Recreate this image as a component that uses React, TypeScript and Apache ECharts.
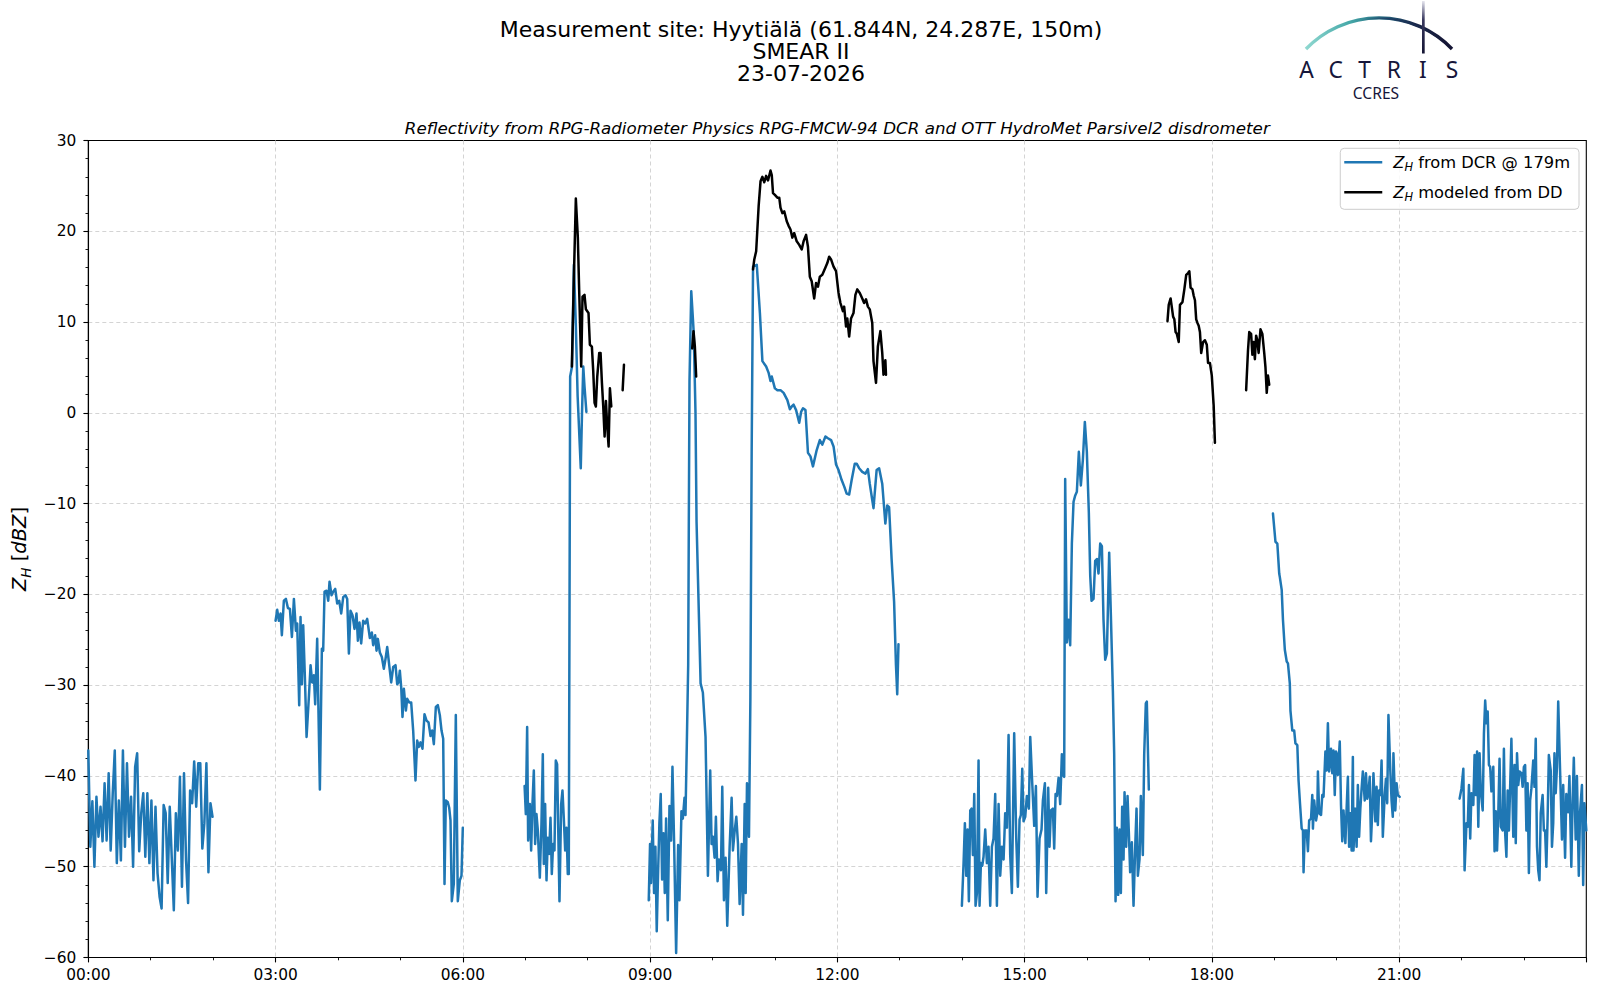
import React, { useEffect, useRef } from 'react';
import * as echarts from 'echarts';

const FONT = '"DejaVu Sans", "Noto Sans", sans-serif';
const BLUE = '#1f77b4';
const BLACK = '#000000';
const NAVY = '#16163a';

const TITLE_LINES = ['Measurement site: Hyytiälä (61.844N, 24.287E, 150m)', 'SMEAR II', '23-07-2026'];
const SUBTITLE = 'Reflectivity from RPG-Radiometer Physics RPG-FMCW-94 DCR and OTT HydroMet Parsivel2 disdrometer';
const NAME_DCR = 'ZH from DCR @ 179m';
const NAME_DD = 'ZH modeled from DD';
const LOGO_LETTERS = ['A', 'C', 'T', 'R', 'I', 'S'];

const X_MIN = 0, X_MAX = 24, X_STEP = 3;
const Y_MIN = -60, Y_MAX = 30, Y_STEP = 10;

// DCR reflectivity, 00:00 - 01:59 (evenly spaced samples)
const dcrSeg1Start = 0.0;
const dcrSeg1End = 1.99;
const dcrSeg1Values = [-37.2,-47.8,-42.8,-50,-42.3,-46.7,-43.4,-47.2,-40.8,-47.1,-39.7,-48.2,-41.9,-37.2,-49.6,-42.7,-49.3,-37.2,-47.8,-38.6,-46.7,-42.3,-50,-39,-37.5,-48.3,-44.1,-41.9,-48.9,-41.9,-49.6,-42.7,-51.5,-43.4,-50.7,-53.3,-54.6,-43.2,-44.1,-51.8,-43.4,-49.1,-54.8,-44.1,-48.2,-40.1,-52.2,-39.7,-49.3,-54,-41.6,-43,-38.4,-43.4,-38.6,-38.6,-48,-45.2,-38.6,-50.6,-43,-44.5];

// DCR reflectivity [hour, dBZ]
const dcrSeg2 = [[3.0,-22.9],[3.027,-21.7],[3.053,-22.9],[3.08,-22.1],[3.101,-24.5],[3.133,-20.7],[3.166,-20.5],[3.198,-21.5],[3.23,-21.6],[3.262,-24.7],[3.294,-20.5],[3.326,-24],[3.347,-23.2],[3.379,-32.2],[3.4,-22.5],[3.422,-29.9],[3.443,-23.4],[3.47,-29.1],[3.497,-35.7],[3.534,-31.3],[3.561,-27.8],[3.587,-29.7],[3.614,-28.9],[3.635,-32.1],[3.667,-24.9],[3.71,-41.5],[3.742,-26],[3.763,-26.2],[3.785,-19.7],[3.817,-19.6],[3.844,-20.7],[3.865,-18.6],[3.897,-20.1],[3.924,-19.7],[3.956,-19.4],[3.988,-21],[4.02,-20.7],[4.052,-22.1],[4.084,-20.3],[4.121,-20.1],[4.148,-20.5],[4.175,-26.5],[4.201,-21.8],[4.233,-22.3],[4.265,-23.8],[4.297,-22.1],[4.319,-25.1],[4.345,-23.1],[4.372,-25.4],[4.404,-22.9],[4.436,-23.2],[4.468,-22.7],[4.511,-24.8],[4.543,-24.2],[4.564,-25.6],[4.596,-24.5],[4.618,-26.2],[4.639,-24.9],[4.671,-26.4],[4.703,-26.9],[4.735,-28.2],[4.762,-27.1],[4.789,-25.8],[4.821,-27.8],[4.853,-29.7],[4.885,-28],[4.922,-27.8],[4.949,-29.9],[4.97,-29.7],[4.991,-28.4],[5.013,-30.2],[5.034,-33.5],[5.056,-30.4],[5.088,-32.8],[5.109,-31.5],[5.141,-31.9],[5.173,-31.9],[5.205,-35],[5.226,-38.1],[5.242,-40.5],[5.269,-36.1],[5.296,-36.8],[5.322,-36.3],[5.354,-37],[5.386,-33.2],[5.419,-33.9],[5.451,-34.1],[5.483,-35.6],[5.509,-35],[5.536,-36.5],[5.568,-32.4],[5.6,-32.2],[5.632,-33.3],[5.659,-35],[5.686,-35.9],[5.707,-51.9],[5.728,-42.7],[5.76,-42.9],[5.782,-43.5],[5.803,-44.9],[5.824,-53.8],[5.856,-51.9],[5.888,-33.3],[5.92,-53.8],[5.952,-51.5],[5.979,-51],[6.0,-45.7]];

const dcrSeg3 = [[6.99,-41.1],[7.01,-44.2],[7.031,-34.6],[7.047,-47.1],[7.074,-43.1],[7.095,-48.2],[7.116,-43.1],[7.138,-39.4],[7.159,-47.5],[7.18,-44.2],[7.202,-46],[7.234,-51.2],[7.26,-45.3],[7.282,-37.6],[7.298,-49.7],[7.319,-43.1],[7.341,-51.5],[7.362,-46.8],[7.383,-48.6],[7.405,-44.6],[7.426,-50.8],[7.447,-47.5],[7.469,-48.2],[7.49,-38.3],[7.511,-38.7],[7.533,-47.5],[7.549,-53.8],[7.576,-43.1],[7.597,-41.6],[7.618,-44.6],[7.64,-48.2],[7.661,-45.7],[7.682,-50.8],[7.698,-50.8],[7.72,4.0],[7.75,5.1],[7.78,16.3],[7.81,9.9],[7.84,1.8],[7.89,-6.1],[7.91,0],[7.93,5.1],[7.95,2.9],[7.98,0.1]];

const dcrSeg4 = [[8.979,-53.7],[9.0,-47.5],[9.016,-51.8],[9.043,-44.9],[9.064,-52.9],[9.086,-47.8],[9.107,-57.1],[9.129,-50.6],[9.15,-45.1],[9.171,-42],[9.193,-51.4],[9.214,-46.3],[9.236,-52.9],[9.257,-44.7],[9.284,-55.9],[9.311,-43.3],[9.337,-47.1],[9.359,-39],[9.386,-47.5],[9.418,-59.5],[9.45,-47.6],[9.471,-53.7],[9.503,-43.9],[9.525,-44.7],[9.552,-42.4],[9.568,-44.3],[9.589,-36.5],[9.611,-27.8],[9.621,-12.2],[9.632,3.5],[9.66,13.4],[9.70,8.8],[9.728,0],[9.745,-12],[9.81,-29.8],[9.846,-30.8],[9.889,-35.7],[9.927,-51],[9.964,-39.4],[9.986,-47.5],[10.007,-46.7],[10.034,-49],[10.055,-44.5],[10.082,-51.6],[10.103,-49.2],[10.136,-50.4],[10.157,-41.2],[10.184,-53.7],[10.21,-49],[10.237,-56.5],[10.275,-47.8],[10.307,-42.4],[10.328,-48.2],[10.355,-46.1],[10.382,-44.5],[10.409,-47.5],[10.435,-54.1],[10.468,-47.5],[10.489,-55.3],[10.516,-43.1],[10.532,-52.9],[10.553,-40.8],[10.585,-46.7],[10.607,-31.8],[10.628,-4.3],[10.65,16.1],[10.71,16.3],[10.76,11],[10.8,5.7],[10.86,5.1],[10.9,4.4],[10.93,3.5],[10.95,4],[11.0,2.7],[11.04,2.5],[11.09,2.5],[11.14,2.2],[11.2,1.4],[11.24,0.4],[11.27,0.7],[11.3,0.9],[11.34,0.3],[11.39,-1.1],[11.42,0.1],[11.45,0.5],[11.49,0.3],[11.53,-4.4],[11.57,-4.8],[11.61,-5.9],[11.67,-4.1],[11.72,-3],[11.76,-3.5],[11.81,-2.6],[11.85,-2.8],[11.9,-3],[11.94,-3.7],[11.98,-5.7],[12.02,-6.3],[12.07,-7.4],[12.11,-8.1],[12.15,-8.9],[12.19,-9],[12.23,-7.4],[12.28,-5.6],[12.31,-5.6],[12.35,-6.1],[12.4,-6.5],[12.45,-6.7],[12.49,-6.2],[12.52,-7.8],[12.56,-9.6],[12.58,-10.5],[12.63,-6.3],[12.67,-6.1],[12.72,-7.8],[12.77,-12.2],[12.8,-10.2],[12.83,-10.4],[12.87,-16.1],[12.91,-20.8],[12.94,-27.8],[12.96,-31],[12.98,-25.5]];

const dcrSeg5 = [[13.996,-54.3],[14.023,-49.6],[14.044,-45.2],[14.066,-51],[14.087,-45.9],[14.108,-53.8],[14.13,-43.8],[14.151,-43.6],[14.172,-48.7],[14.194,-42],[14.215,-54.3],[14.237,-52.9],[14.263,-38.3],[14.279,-54.3],[14.301,-49.6],[14.322,-49.9],[14.343,-48.9],[14.37,-45.9],[14.397,-49.6],[14.423,-47.8],[14.45,-54.3],[14.477,-47.8],[14.503,-46.9],[14.53,-42],[14.557,-54.3],[14.584,-43.1],[14.61,-51],[14.637,-47.8],[14.664,-49.2],[14.69,-44.1],[14.717,-45.7],[14.744,-35.5],[14.77,-48.7],[14.797,-52.9],[14.834,-35.3],[14.867,-46.9],[14.893,-52.2],[14.92,-44.8],[14.941,-44.3],[14.963,-39.2],[14.984,-45],[15.011,-44.5],[15.037,-42.2],[15.069,-43.6],[15.091,-35.7],[15.123,-40.8],[15.155,-45.5],[15.182,-41.1],[15.208,-53.3],[15.24,-46.9],[15.272,-45.9],[15.294,-42.7],[15.326,-40.8],[15.347,-52.9],[15.379,-41.3],[15.4,-47.8],[15.422,-43.8],[15.454,-43.6],[15.475,-48],[15.497,-42],[15.518,-42.2],[15.545,-40.2],[15.571,-43.1],[15.598,-37.6],[15.614,-39.9],[15.635,-40.1],[15.651,-7.3],[15.678,-25.3],[15.705,-22.8],[15.731,-25.6],[15.758,-14.4],[15.785,-9.8],[15.812,-9.1],[15.838,-8.7],[15.87,-4.3],[15.902,-8],[15.934,-5.2],[15.966,-1],[15.998,-4.3],[16.03,-11],[16.052,-17.9],[16.073,-20.7],[16.105,-20.5],[16.132,-16.3],[16.159,-16.1],[16.185,-17.7],[16.212,-14.4],[16.239,-14.7],[16.265,-22.8],[16.292,-27.2],[16.319,-26.5],[16.356,-15.4],[16.383,-22.3],[16.415,-30.6],[16.436,-37.6],[16.458,-53.8],[16.479,-45.7],[16.5,-53.1],[16.522,-45.9],[16.543,-52.9],[16.564,-43.4],[16.586,-49.2],[16.602,-41.8],[16.628,-47.8],[16.65,-42.2],[16.671,-46.2],[16.692,-50.6],[16.719,-47.3],[16.746,-54.3],[16.773,-47.8],[16.794,-43.6],[16.815,-51],[16.842,-49.2],[16.863,-42.2],[16.895,-48.7],[16.917,-37.6],[16.943,-32],[16.959,-31.8],[16.991,-41.5]];

const dcrSeg6 = [[18.98,-11.1],[19.02,-14.2],[19.05,-14.4],[19.08,-17.7],[19.09,-18.1],[19.12,-19.5],[19.14,-22.8],[19.17,-26.1],[19.2,-27.4],[19.22,-27.6],[19.25,-29.8],[19.26,-32.8],[19.29,-35],[19.32,-35],[19.34,-36.4],[19.37,-36.6],[19.39,-40.5],[19.41,-42.7],[19.44,-45.8],[19.46,-46],[19.47,-50.6],[19.49,-46],[19.52,-46],[19.54,-48.3],[19.56,-44.9],[19.59,-44.7],[19.61,-42.1],[19.62,-45.8],[19.64,-42.7],[19.67,-44.9],[19.69,-44.1],[19.7,-39.5],[19.72,-44.1],[19.75,-44.3],[19.77,-42.1],[19.79,-42.3],[19.82,-37.3],[19.84,-39.4],[19.86,-34.2],[19.88,-39.5],[19.91,-37],[19.93,-39.7],[19.95,-37.2],[19.97,-42.1],[19.99,-37.3],[20.01,-37.7],[20.02,-39.9],[20.05,-36.2],[20.07,-43.2],[20.09,-47.2],[20.11,-43.8],[20.14,-47.4],[20.16,-43.6],[20.18,-40.1],[20.2,-47.8],[20.22,-44.1],[20.24,-48.2],[20.26,-37.9],[20.27,-48.2],[20.3,-43.6],[20.32,-47.8],[20.34,-41],[20.36,-46.7],[20.38,-43.6],[20.4,-41.4],[20.42,-39.5],[20.45,-42.7],[20.47,-39.7],[20.49,-42.5],[20.51,-41.9],[20.53,-40.1],[20.55,-47.2],[20.57,-44.1],[20.59,-39.7],[20.62,-45],[20.64,-41.2],[20.66,-45.4],[20.68,-41.6],[20.7,-42.1],[20.72,-38.3],[20.74,-46.7],[20.77,-42.1],[20.79,-40.3],[20.81,-43],[20.83,-33.3],[20.86,-39.4],[20.88,-42.7],[20.9,-44.5],[20.91,-37.5],[20.94,-43.8],[20.96,-40.8],[20.98,-42.1],[21.01,-42.3]];

const dcrSeg7 = [[21.97,-42.5],[22.0,-41.4],[22.03,-39.2],[22.05,-50.4],[22.08,-45.2],[22.1,-45.6],[22.12,-41],[22.14,-46.9],[22.16,-41.9],[22.19,-43.2],[22.21,-37.7],[22.23,-42.1],[22.25,-37.3],[22.27,-45.6],[22.29,-37.5],[22.31,-41.7],[22.34,-43.8],[22.36,-35.3],[22.38,-31.7],[22.4,-34.2],[22.42,-32.9],[22.44,-38.8],[22.46,-39],[22.48,-41.7],[22.51,-39],[22.53,-48.3],[22.55,-43.9],[22.57,-48.2],[22.59,-44.1],[22.61,-38.1],[22.63,-45.6],[22.66,-46],[22.68,-37],[22.7,-46.3],[22.72,-48.9],[22.74,-41.6],[22.76,-46],[22.78,-41.2],[22.8,-35.9],[22.83,-46.7],[22.85,-38.8],[22.87,-47.4],[22.89,-37.5],[22.91,-41],[22.93,-39.5],[22.96,-39.7],[22.98,-41.2],[23.0,-39],[23.02,-38.8],[23.04,-46],[23.06,-40.8],[23.08,-50.7],[23.1,-42.7],[23.12,-41.4],[23.15,-38.3],[23.17,-41.2],[23.19,-35.9],[23.21,-47.8],[23.23,-50.4],[23.25,-51.5],[23.27,-44.1],[23.3,-42.1],[23.32,-46],[23.34,-46],[23.36,-50],[23.38,-44.7],[23.4,-37.7],[23.43,-39.4],[23.45,-47.8],[23.47,-45.2],[23.49,-37.5],[23.51,-41.9],[23.53,-39],[23.55,-31.8],[23.58,-39.4],[23.61,-47],[23.63,-41],[23.66,-49],[23.68,-42],[23.71,-44],[23.73,-40],[23.76,-50],[23.78,-43],[23.8,-38],[23.83,-47],[23.85,-40],[23.88,-51],[23.9,-44],[23.93,-41],[23.95,-52],[23.97,-43],[24.0,-46]];

// Reflectivity modeled from disdrometer [hour, dBZ]
const ddSeg1 = [[7.747,5.1],[7.779,14.7],[7.811,23.6],[7.843,19.3],[7.864,13.6],[7.897,5.1],[7.918,12.8],[7.95,13],[7.972,11.4],[8.014,11],[8.036,7.5],[8.068,7.3],[8.089,4.7],[8.111,1.1],[8.132,0.7],[8.154,4],[8.186,6.6],[8.207,6.6],[8.229,3.3],[8.25,0.7],[8.272,-2.6],[8.293,1.3],[8.314,-1.5],[8.336,-3.7],[8.357,2.7],[8.379,0.7]];
const ddSeg2 = [[8.561,2.5],[8.582,5.3]];
const ddSeg3 = [[9.675,7.1],[9.696,9],[9.718,7.3],[9.739,4]];
const ddSeg4 = [[10.65,15.8],[10.67,16.9],[10.7,17.8],[10.74,22.8],[10.77,25.5],[10.8,26],[10.83,25.4],[10.86,26.1],[10.89,25.6],[10.93,26.7],[10.95,26.2],[10.97,24.2],[11.0,24],[11.04,23.7],[11.07,23.7],[11.09,22.6],[11.12,22],[11.15,22.2],[11.19,21.1],[11.22,20.6],[11.25,20.2],[11.28,19.3],[11.31,19.8],[11.35,18.9],[11.39,18.5],[11.43,18],[11.46,18.9],[11.5,19.6],[11.53,18.3],[11.56,15],[11.59,14.5],[11.63,12.6],[11.66,14.3],[11.69,13.9],[11.72,15],[11.76,15.2],[11.81,16],[11.84,16.5],[11.87,17.2],[11.9,16.9],[11.94,16.1],[11.98,15.6],[12.02,13.2],[12.05,12.1],[12.09,11.2],[12.11,11.7],[12.14,9.5],[12.16,10.4],[12.19,8.4],[12.22,10.4],[12.26,11],[12.29,13],[12.32,13.6],[12.36,13.2],[12.4,12.6],[12.43,12.1],[12.46,12.5],[12.49,11.7],[12.52,11.4],[12.56,9.9],[12.58,5.7],[12.62,3.3],[12.65,7.3],[12.69,9],[12.72,6.6],[12.74,4.2],[12.77,5.8],[12.78,4.2]];
const ddSeg5 = [[17.29,10.1],[17.31,11.9],[17.34,12.6],[17.38,10.6],[17.4,10.3],[17.42,8.9],[17.44,8.7],[17.47,7.8],[17.49,11.9],[17.53,12.2],[17.56,13.6],[17.59,15.2],[17.62,15.4],[17.64,15.6],[17.66,13.8],[17.69,13.6],[17.71,12.9],[17.73,12.4],[17.75,10.3],[17.77,9.9],[17.79,9.6],[17.81,8.9],[17.83,6.6],[17.86,7.8],[17.89,8],[17.92,7.5],[17.94,5.5],[17.97,5.5],[18.0,4.1],[18.03,0.8],[18.05,-3.3]];
const ddSeg6 = [[18.55,2.5],[18.58,6.9],[18.6,8.9],[18.63,8.7],[18.65,6.4],[18.67,7.8],[18.69,5.9],[18.71,8.5],[18.73,8],[18.75,6.6],[18.78,9.2],[18.81,8.7],[18.84,6.6],[18.86,5],[18.88,2.2],[18.9,4.1],[18.92,3.1]];

function evenSegment(start: number, end: number, values: number[]) {
  const n = values.length;
  return values.map((v, i) => [start + ((end - start) * i) / (n - 1), v]);
}

const fmtMinus = (v: number) => (v < 0 ? '\u2212' + Math.abs(v) : String(v));
const fmtHour = (v: number) => (v >= 24 ? '' : String(v).padStart(2, '0') + ':00');

export default function App() {
  const ref = useRef<HTMLDivElement>(null);

  useEffect(() => {
    document.body.style.margin = '0';
    if (!ref.current) return;
    const chart = echarts.init(ref.current, undefined, { renderer: 'svg' });

    const blueSegs = [evenSegment(dcrSeg1Start, dcrSeg1End, dcrSeg1Values), dcrSeg2, dcrSeg3, dcrSeg4, dcrSeg5, dcrSeg6, dcrSeg7];
    const blackSegs = [ddSeg1, ddSeg2, ddSeg3, ddSeg4, ddSeg5, ddSeg6];

    const mk = (name: string, data: number[][], color: string, z: number) => ({
      type: 'line',
      name,
      data,
      showSymbol: false,
      symbol: 'none',
      silent: true,
      z,
      lineStyle: { color, width: 2.5, join: 'round', cap: 'round' },
      itemStyle: { color },
    });

    const series = [
      ...blueSegs.map((d) => mk(NAME_DCR, d, BLUE, 2)),
      ...blackSegs.map((d) => mk(NAME_DD, d, BLACK, 3)),
    ];

    const subRich = {
      z: { fontFamily: FONT, fontStyle: 'italic', fontSize: 16.3, color: '#000', lineHeight: 20 },
      h: { fontFamily: FONT, fontStyle: 'italic', fontSize: 11.4, color: '#000', lineHeight: 13, verticalAlign: 'bottom' },
      t: { fontFamily: FONT, fontSize: 16.3, color: '#000', lineHeight: 20 },
    };

    const nameRich = {
      z: { fontFamily: FONT, fontStyle: 'italic', fontSize: 19.5, color: '#000', lineHeight: 26 },
      h: { fontFamily: FONT, fontStyle: 'italic', fontSize: 13.6, color: '#000', lineHeight: 17, verticalAlign: 'bottom' },
      t: { fontFamily: FONT, fontSize: 19.5, color: '#000', lineHeight: 26 },
      i: { fontFamily: FONT, fontStyle: 'italic', fontSize: 19.5, color: '#000', lineHeight: 26 },
    };

    const logoLetterX0 = 1306.5;
    const logoLetterDx = 29.1;

    const graphics: any[] = [
      ...TITLE_LINES.map((t, i) => ({
        type: 'text',
        silent: true,
        style: {
          text: t,
          x: 801,
          y: 29.3 + i * 22.2,
          fill: '#000',
          font: `22px ${FONT}`,
          align: 'center',
          verticalAlign: 'middle',
        },
      })),
      {
        type: 'text',
        silent: true,
        style: {
          text: SUBTITLE,
          x: 837.3,
          y: 127.8,
          fill: '#000',
          font: `italic 16.7px ${FONT}`,
          align: 'center',
          verticalAlign: 'middle',
        },
      },
      {
        type: 'arc',
        silent: true,
        shape: { cx: 1379, cy: 119.2, r: 101.3, startAngle: -2.376, endAngle: -0.766, clockwise: true },
        style: {
          fill: 'none',
          lineWidth: 3.4,
          stroke: new echarts.graphic.LinearGradient(0, 0, 1, 0, [
            { offset: 0, color: '#8fd8d0' },
            { offset: 0.3, color: '#45a8a8' },
            { offset: 0.55, color: '#22607a' },
            { offset: 0.75, color: '#1a2548' },
            { offset: 1, color: '#141433' },
          ]),
        },
      },
      {
        type: 'arc',
        silent: true,
        shape: { cx: 1379, cy: 119.6, r: 101.3, startAngle: -1.75, endAngle: -0.8, clockwise: true },
        style: {
          fill: 'none',
          lineWidth: 1.6,
          stroke: new echarts.graphic.LinearGradient(0, 0, 1, 0, [
            { offset: 0, color: 'rgba(34,96,122,0)' },
            { offset: 0.3, color: '#1f3f66' },
            { offset: 1, color: '#141433' },
          ]),
        },
      },
      {
        type: 'rect',
        silent: true,
        shape: { x: 1422, y: 1, width: 2.7, height: 52.5 },
        style: {
          fill: new echarts.graphic.LinearGradient(0, 0, 0, 1, [
            { offset: 0, color: '#e6e6ef' },
            { offset: 0.35, color: '#3a3a60' },
            { offset: 1, color: '#141433' },
          ]),
        },
      },
      ...LOGO_LETTERS.map((ch, i) => ({
        type: 'text',
        silent: true,
        style: {
          text: ch,
          x: logoLetterX0 + i * logoLetterDx,
          y: 69.3,
          fill: NAVY,
          font: `normal 22.8px "Noto Sans", Lato, sans-serif`,
          align: 'center',
          verticalAlign: 'middle',
        },
      })),
      {
        type: 'text',
        silent: true,
        style: {
          text: 'CCRES',
          x: 1376,
          y: 93.4,
          fill: NAVY,
          font: `15.6px "Noto Sans", Lato, sans-serif`,
          align: 'center',
          verticalAlign: 'middle',
        },
      },
    ];

    const axisLineStyle = { color: '#000', width: 1.1 };
    const gridLine = { show: true, showMinLine: false, showMaxLine: false, lineStyle: { color: '#d4d4d4', width: 1, type: [4, 3] } };

    chart.setOption({
      animation: false,
      backgroundColor: '#ffffff',
      grid: {
        left: 88.3,
        right: 13.7,
        top: 140.5,
        bottom: 42.5,
        show: true,
        borderColor: '#000',
        borderWidth: 1.1,
        containLabel: false,
      },
      legend: {
        orient: 'vertical',
        right: 21,
        top: 148.3,
        selectedMode: false,
        data: [{ name: NAME_DCR }, { name: NAME_DD }],
        icon: 'rect',
        itemWidth: 38,
        itemHeight: 2.6,
        itemGap: 12,
        backgroundColor: 'rgba(255,255,255,0.85)',
        borderColor: '#cccccc',
        borderWidth: 1,
        borderRadius: 4,
        padding: [6, 9, 7, 4],
        formatter: (name: string) =>
          name === NAME_DCR ? '{z|Z}{h|H}{t| from DCR @ 179m}' : '{z|Z}{h|H}{t| modeled from DD}',
        textStyle: { padding: [0, 0, 0, 6], rich: subRich },
      },
      xAxis: {
        type: 'value',
        min: X_MIN,
        max: X_MAX,
        interval: X_STEP,
        axisLine: { show: true, onZero: false, lineStyle: axisLineStyle },
        axisTick: { show: true, length: 4.9, lineStyle: axisLineStyle },
        minorTick: { show: true, splitNumber: 3, length: 2.8, lineStyle: { color: '#000', width: 0.9 } },
        axisLabel: { formatter: fmtHour, color: '#000', fontFamily: FONT, fontSize: 15.4, margin: 10 },
        splitLine: gridLine,
      },
      yAxis: {
        type: 'value',
        min: Y_MIN,
        max: Y_MAX,
        interval: Y_STEP,
        name: '{z|Z}{h|H}{t| [}{i|dBZ}{t|]}',
        nameLocation: 'middle',
        nameGap: 51,
        nameRotate: 90,
        nameTextStyle: { rich: nameRich },
        axisLine: { show: true, onZero: false, lineStyle: axisLineStyle },
        axisTick: { show: true, length: 4.9, lineStyle: axisLineStyle },
        minorTick: { show: true, splitNumber: 5, length: 2.8, lineStyle: { color: '#000', width: 0.9 } },
        axisLabel: { formatter: fmtMinus, color: '#000', fontFamily: FONT, fontSize: 15.4, margin: 12 },
        splitLine: gridLine,
      },
      series,
      graphic: graphics,
    } as any);

    return () => chart.dispose();
  }, []);

  return <div ref={ref} style={{ width: 1600, height: 1000 }} />;
}
